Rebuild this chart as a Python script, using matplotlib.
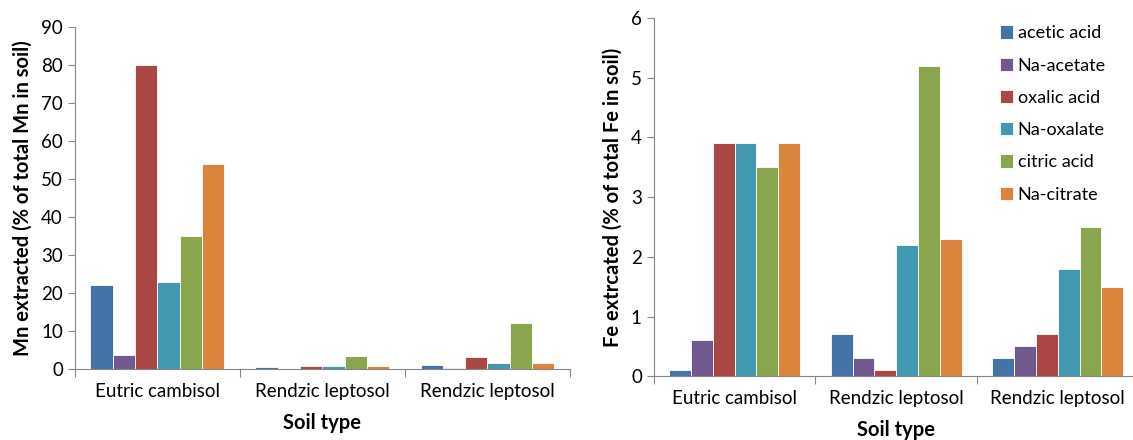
import matplotlib
matplotlib.use('Agg')
import matplotlib.pyplot as plt
import numpy as np

plt.rcParams['font.family'] = ['Lato', 'DejaVu Sans']

soils = ['Eutric cambisol', 'Rendzic leptosol', 'Rendzic leptosol']
extractants = ['acetic acid', 'Na-acetate', 'oxalic acid', 'Na-oxalate', 'citric acid', 'Na-citrate']
colors = ['#4572A7', '#71588F', '#AA4643', '#4198AF', '#89A54E', '#DB843D']

# Mn extracted (% of total Mn), one list per extractant, values per soil
mn_acetic = [22, 0.6, 1.0]
mn_na_acetate = [3.7, 0.05, 0.4]
mn_oxalic = [80, 0.7, 3.2]
mn_na_oxalate = [23, 0.8, 1.7]
mn_citric = [35, 3.5, 12.2]
mn_na_citrate = [54, 0.8, 1.7]

# Fe extracted (% of total Fe)
fe_acetic = [0.1, 0.7, 0.3]
fe_na_acetate = [0.6, 0.3, 0.5]
fe_oxalic = [3.9, 0.1, 0.7]
fe_na_oxalate = [3.9, 2.2, 1.8]
fe_citric = [3.5, 5.2, 2.5]
fe_na_citrate = [3.9, 2.3, 1.5]

mn = [mn_acetic, mn_na_acetate, mn_oxalic, mn_na_oxalate, mn_citric, mn_na_citrate]
fe = [fe_acetic, fe_na_acetate, fe_oxalic, fe_na_oxalate, fe_citric, fe_na_citrate]

fig = plt.figure(figsize=(11.33, 4.4), dpi=100)
ax1 = fig.add_axes([0.066, 0.161, 0.437, 0.778])
ax2 = fig.add_axes([0.577, 0.145, 0.428, 0.814])

grey = '#868686'
bw = 0.135
x = np.arange(len(soils)) + 0.5


def draw(ax, data, ymax, ystep, ylabel):
    for i, vals in enumerate(data):
        ax.bar(x + (i - 2.5) * bw, vals, bw, color=colors[i], edgecolor='white',
               linewidth=0.6, label=extractants[i])
    ax.set_xlim(0, 3)
    ax.set_ylim(0, ymax)
    ax.set_yticks(np.arange(0, ymax + ystep / 2, ystep))
    ax.set_xticks([0, 1, 2, 3])
    ax.set_xticklabels([])
    ax.set_xticks(x, minor=True)
    ax.set_xticklabels(soils, minor=True, fontsize=13.5)
    ax.tick_params(axis='x', which='minor', length=0, pad=10)
    ax.tick_params(axis='x', which='major', length=6, color=grey)
    ax.tick_params(axis='y', length=5, color=grey, labelsize=13.5)
    for s in ['top', 'right']:
        ax.spines[s].set_visible(False)
    for s in ['left', 'bottom']:
        ax.spines[s].set_color(grey)
    ax.set_xlabel('Soil type', fontsize=14.5, fontweight='bold', labelpad=9)
    ax.set_ylabel(ylabel, fontsize=14.5, fontweight='bold', labelpad=6)


draw(ax1, mn, 90, 10, 'Mn extracted (% of total Mn in soil)')
draw(ax2, fe, 6, 1, 'Fe extrcated (% of total Fe in soil)')

ax2.legend(loc='upper left', bbox_to_anchor=(0.68, 1.025), frameon=False, fontsize=13,
           handlelength=0.75, handleheight=0.75, labelspacing=0.9, handletextpad=0.25)

fig.savefig('out.png', dpi=100)
